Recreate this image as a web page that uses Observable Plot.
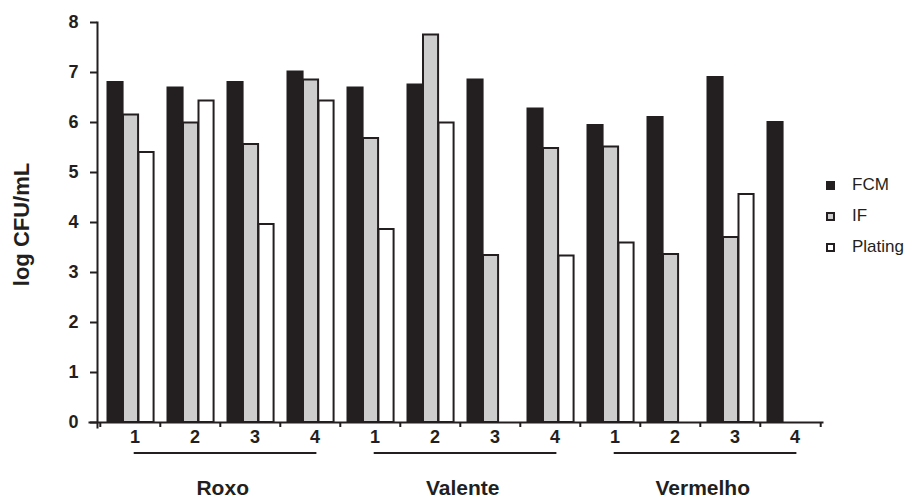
<!DOCTYPE html>
<html><head><meta charset="utf-8">
<script src="https://cdn.jsdelivr.net/npm/d3@7"></script>
<script src="https://cdn.jsdelivr.net/npm/@observablehq/plot@0.6"></script>
<style>
body{margin:0;background:#fff;}
#wrap{position:relative;width:909px;height:501px;font-family:"Liberation Sans",Arial,sans-serif;color:#231f20;}
#legend{position:absolute;left:826px;top:0;}
.item{position:absolute;left:0;display:flex;align-items:center;white-space:nowrap;font-size:17px;line-height:20px;transform:translateY(-50%);}
.sw{width:9px;height:9px;box-sizing:border-box;border:2px solid #231f20;margin-right:17px;}
</style></head><body><div id="wrap"><div id="legend"></div></div>
<script>
const cultivars = ["Roxo", "Valente", "Vermelho"];
const samples = ["1", "2", "3", "4"];
const series = ["FCM", "IF", "Plating"];
const fcm     = [6.80, 6.69, 6.80, 7.01,  6.69, 6.75, 6.85, 6.27,  5.94, 6.10, 6.90, 6.00];
const ifv     = [6.15, 5.99, 5.56, 6.85,  5.68, 7.75, 3.34, 5.48,  5.51, 3.36, 3.70, null];
const plating = [5.40, 6.43, 3.96, 6.43,  3.86, 5.99, null, 3.33,  3.59, null, 4.56, null];
const yTicks = [0, 1, 2, 3, 4, 5, 6, 7, 8];
const yLabel = "log CFU/mL";

const values = {FCM: fcm, IF: ifv, Plating: plating};
const groups = cultivars.flatMap(c => samples.map(s => `${c}-${s}`));
const rows = [];
series.forEach(s => groups.forEach((g, i) => {
  if (values[s][i] != null) rows.push({group: g, series: s, value: values[s][i]});
}));

const W = 909, H = 501, mL = 97, mR = 87, mT = 22, mB = 79;
const step = (W - mL - mR) / groups.length;
const pad = 7.5, bw = 15.5;
const ink = "#231f20";
const fills = {FCM: ink, IF: "#cdcdcd", Plating: "#ffffff"};

const chart = Plot.plot({
  width: W, height: H,
  marginLeft: mL, marginRight: mR, marginTop: mT, marginBottom: mB,
  style: {fontFamily: '"Liberation Sans", Arial, sans-serif', color: ink, background: "#fff"},
  x: {domain: groups, padding: 0, axis: null},
  y: {domain: [0, 8], axis: null},
  marks: [
    ...series.map((s, k) => Plot.barY(rows.filter(r => r.series === s), {
      x: "group", y: "value", fill: fills[s], stroke: ink, strokeWidth: 2,
      insetLeft: pad + k * bw, insetRight: step - pad - (k + 1) * bw
    })),
    Plot.frame({anchor: "left", stroke: ink, strokeWidth: 2, insetBottom: -5}),
    Plot.frame({anchor: "bottom", stroke: ink, strokeWidth: 2, insetLeft: -8}),
    Plot.axisY({ticks: yTicks, tickSize: 7, tickPadding: 12, strokeWidth: 2, fontSize: 18, fontWeight: "bold", label: null, tickFormat: d => String(d)}),
    Plot.ruleX(groups, {x: d => d, y1: () => 0, y2: () => -0.1, dx: -step / 2, stroke: ink, strokeWidth: 2}),
    Plot.ruleX([groups[groups.length - 1]], {x: d => d, y1: () => 0, y2: () => -0.1, dx: step / 2, stroke: ink, strokeWidth: 2}),
    Plot.axisX({tickSize: 0, tickPadding: 8, tickFormat: d => d.split("-")[1], fontSize: 18, fontWeight: "bold", dx: 4.5, label: null}),
    Plot.ruleY(cultivars, {y: () => 0, x1: c => `${c}-${samples[0]}`, x2: c => `${c}-${samples[3]}`, dy: 30.5, insetLeft: 33.7, insetRight: 23.6, stroke: ink, strokeWidth: 2}),
    Plot.text(cultivars, {x: c => `${c}-${samples[1]}`, y: () => 0, text: d => d, dx: step / 2 + 2, dy: 66, fontSize: 21, fontWeight: "bold", fill: ink}),
    Plot.text([yLabel], {frameAnchor: "left", textAnchor: "middle", text: d => d, rotate: -90, dx: -76, dy: 2, fontSize: 22, fontWeight: "bold", fill: ink})
  ]
});
document.getElementById("wrap").prepend(chart);

const legend = document.getElementById("legend");
const legendY = [185, 216, 247];
series.forEach((s, i) => {
  const it = document.createElement("div");
  it.className = "item";
  it.style.top = legendY[i] + "px";
  const sw = document.createElement("span");
  sw.className = "sw";
  sw.style.background = fills[s];
  const t = document.createElement("span");
  t.textContent = s;
  it.append(sw, t);
  legend.append(it);
});
</script></body></html>
